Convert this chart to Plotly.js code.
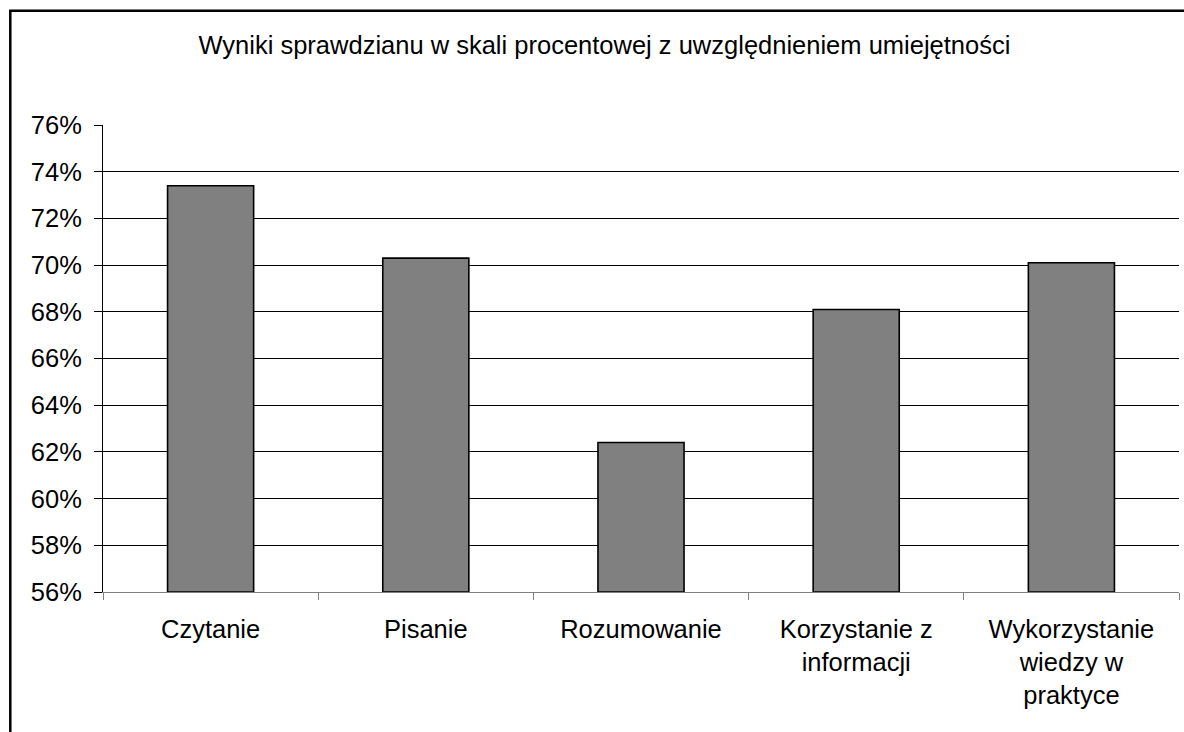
<!DOCTYPE html>
<html>
<head>
<meta charset="utf-8">
<script src="https://cdn.plot.ly/plotly-3.0.1.min.js"></script>
<style>html,body{margin:0;padding:0;background:#fff;}#chart{width:1184px;height:732px;}</style>
</head>
<body>
<div id="chart"></div>
<script>
const categories = ["Czytanie", "Pisanie", "Rozumowanie", "Korzystanie z<br>informacji", "Wykorzystanie<br>wiedzy w<br>praktyce"];
const values = [73.4, 70.3, 62.4, 68.1, 70.1];
const yTickVals = [56, 58, 60, 62, 64, 66, 68, 70, 72, 74, 76];
const yTickText = ["56%", "58%", "60%", "62%", "64%", "66%", "68%", "70%", "72%", "74%", "76%"];
const titleText = "Wyniki sprawdzianu w skali procentowej z uwzględnieniem umiejętności";
const baseValue = 56;

const FONT = "Arial, 'Liberation Sans', sans-serif";

const trace = {
  type: "bar",
  x: categories,
  y: values.map(v => v - baseValue),
  base: baseValue,
  width: 0.4,
  marker: {color: "#808080", line: {color: "#000000", width: 1.6}},
  hoverinfo: "x+y"
};

const layout = {
  width: 1184, height: 732, autosize: false,
  paper_bgcolor: "#ffffff", plot_bgcolor: "#ffffff",
  margin: {l: 103, r: 5, t: 125, b: 140, pad: 0},
  showlegend: false,
  font: {family: FONT, size: 25.5, color: "#000"},
  title: {
    text: titleText,
    font: {family: FONT, size: 25.5, color: "#000"},
    xref: "container", x: 0.5105, xanchor: "center",
    yref: "container", y: 1 - 45/732, yanchor: "middle"
  },
  xaxis: {
    type: "category",
    showgrid: false,
    showline: true, linecolor: "#808080", linewidth: 1,
    ticks: "outside", tickson: "boundaries", ticklen: 7, tickcolor: "#808080", tickwidth: 1,
    tickfont: {family: FONT, size: 25.5, color: "#000"},
    ticklabelstandoff: 14,
    fixedrange: true
  },
  yaxis: {
    range: [56, 76],
    tickmode: "array", tickvals: yTickVals, ticktext: yTickText,
    showgrid: true, gridcolor: "#000000", gridwidth: 1,
    zeroline: false,
    showline: true, linecolor: "#000000", linewidth: 1,
    ticks: "outside", ticklen: 8, tickcolor: "#000", tickwidth: 1,
    tickfont: {family: FONT, size: 25.5, color: "#000"},
    ticklabelstandoff: 7,
    fixedrange: true
  },
  shapes: [{
    type: "rect", xref: "paper", yref: "paper",
    x0: (10.3 - 103) / 1076, x1: (1230 - 103) / 1076,
    y0: (592 - 800) / 467, y1: (592 - 10.7) / 467,
    line: {color: "#000", width: 2.5}, fillcolor: "rgba(0,0,0,0)", layer: "above"
  }]
};

Plotly.newPlot("chart", [trace], layout, {displayModeBar: false, staticPlot: true});
</script>
</body>
</html>
